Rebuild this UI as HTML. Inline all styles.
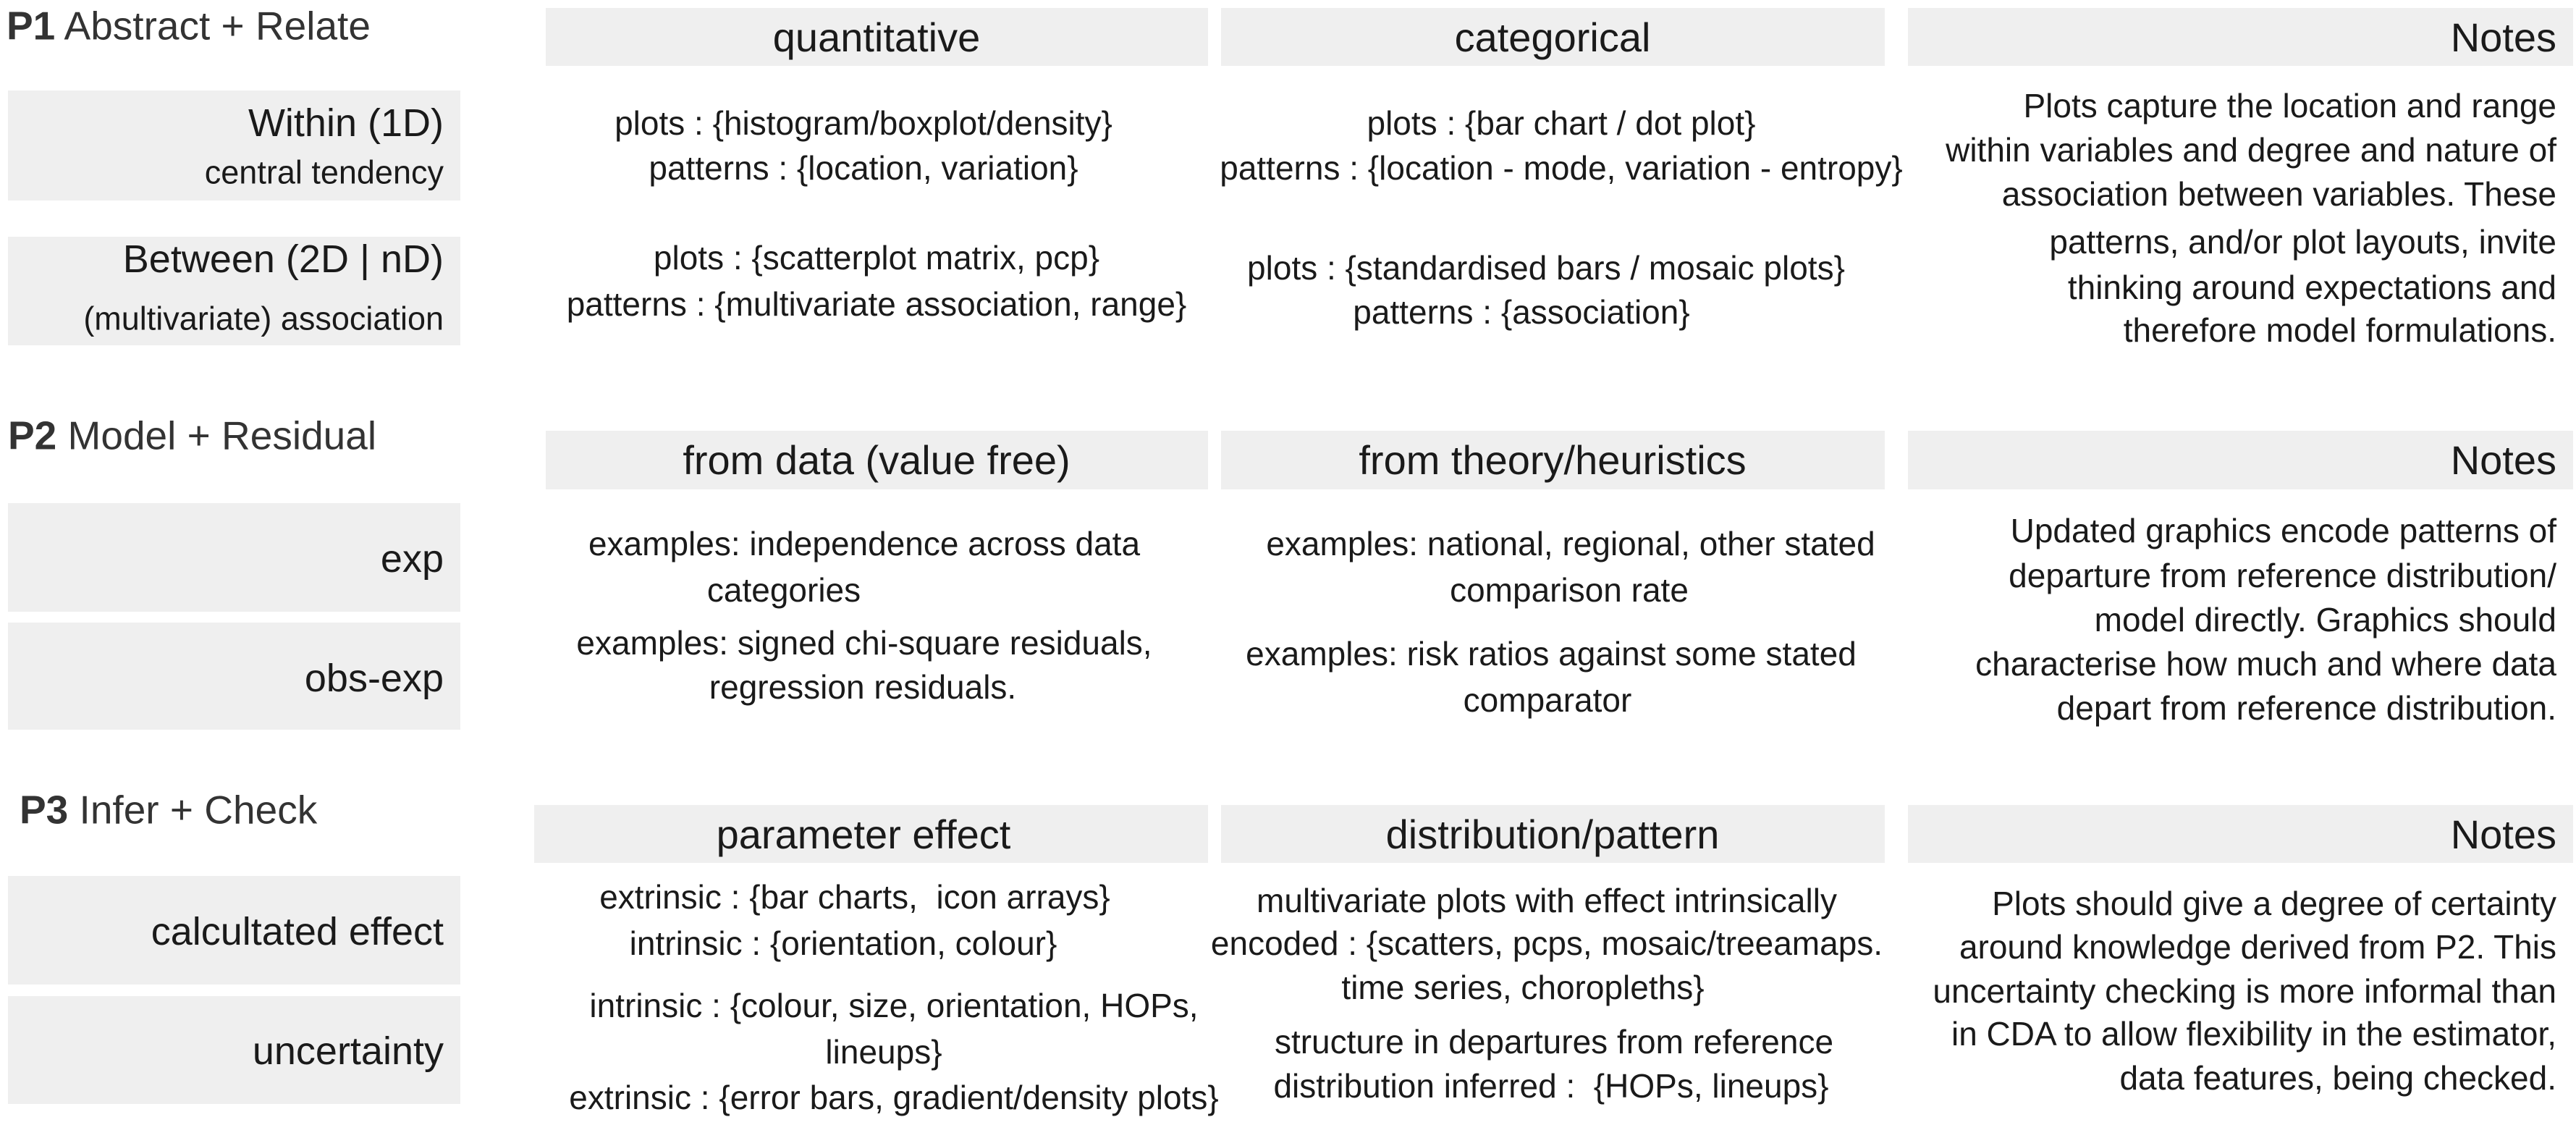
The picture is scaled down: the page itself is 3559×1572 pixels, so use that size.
<!DOCTYPE html>
<html><head><meta charset="utf-8">
<style>
html,body{margin:0;padding:0;background:#fff;}
#page{position:relative;width:3559px;height:1572px;overflow:hidden;font-family:"Liberation Sans",sans-serif;color:#1a1a1a;}
.box{position:absolute;background:#efefef;}
.c{position:absolute;white-space:nowrap;transform:translate(-50%,-50%);font-size:46px;line-height:1;}
.r{position:absolute;white-space:nowrap;transform:translateY(-50%);font-size:46px;line-height:1;text-align:right;}
.l{position:absolute;white-space:nowrap;transform:translateY(-50%);font-size:55px;line-height:1;color:#333;}
.h{font-size:56px;}
.big{font-size:54px;}
.sm{font-size:45px;}
</style></head><body>
<div id="page">

<div class="l" style="left:9px;top:36px"><b>P1</b> Abstract + Relate</div>
<div class="l" style="left:11px;top:602px"><b>P2</b> Model + Residual</div>
<div class="l" style="left:27px;top:1119px"><b>P3</b> Infer + Check</div>

<div class="box" style="left:11px;top:125px;width:625px;height:152px"></div>
<div class="box" style="left:11px;top:327px;width:625px;height:150px"></div>
<div class="box" style="left:11px;top:695px;width:625px;height:150px"></div>
<div class="box" style="left:11px;top:860px;width:625px;height:148px"></div>
<div class="box" style="left:11px;top:1210px;width:625px;height:150px"></div>
<div class="box" style="left:11px;top:1376px;width:625px;height:149px"></div>

<div class="r big" style="right:2946px;top:170px">Within (1D)</div>
<div class="r sm" style="right:2946px;top:238px">central tendency</div>
<div class="r big" style="right:2946px;top:358px">Between (2D | nD)</div>
<div class="r sm" style="right:2946px;top:440px">(multivariate) association</div>
<div class="r big" style="right:2946px;top:772px">exp</div>
<div class="r big" style="right:2946px;top:937px">obs-exp</div>
<div class="r big" style="right:2946px;top:1287px">calcultated effect</div>
<div class="r big" style="right:2946px;top:1452px">uncertainty</div>

<div class="box" style="left:754px;top:11px;width:915px;height:80px"></div>
<div class="box" style="left:1687px;top:11px;width:917px;height:80px"></div>
<div class="box" style="left:2636px;top:11px;width:919px;height:80px"></div>
<div class="c h" style="left:1211px;top:52px">quantitative</div>
<div class="c h" style="left:2145px;top:52px">categorical</div>
<div class="r h" style="right:27px;top:52px">Notes</div>

<div class="box" style="left:754px;top:595px;width:915px;height:81px"></div>
<div class="box" style="left:1687px;top:595px;width:917px;height:81px"></div>
<div class="box" style="left:2636px;top:595px;width:919px;height:81px"></div>
<div class="c h" style="left:1211px;top:636px">from data (value free)</div>
<div class="c h" style="left:2145px;top:636px">from theory/heuristics</div>
<div class="r h" style="right:27px;top:636px">Notes</div>

<div class="box" style="left:738px;top:1112px;width:931px;height:80px"></div>
<div class="box" style="left:1687px;top:1112px;width:917px;height:80px"></div>
<div class="box" style="left:2636px;top:1112px;width:919px;height:80px"></div>
<div class="c h" style="left:1193px;top:1153px">parameter effect</div>
<div class="c h" style="left:2145px;top:1153px">distribution/pattern</div>
<div class="r h" style="right:27px;top:1153px">Notes</div>

<div class="c" style="left:1193px;top:170px">plots : {histogram/boxplot/density}</div>
<div class="c" style="left:1193px;top:232px">patterns : {location, variation}</div>
<div class="c" style="left:1211px;top:356px">plots : {scatterplot matrix, pcp}</div>
<div class="c" style="left:1211px;top:420px">patterns : {multivariate association, range}</div>
<div class="c" style="left:2157px;top:170px">plots : {bar chart / dot plot}</div>
<div class="c" style="left:2157px;top:232px">patterns : {location - mode, variation - entropy}</div>
<div class="c" style="left:2136px;top:370px">plots : {standardised bars / mosaic plots}</div>
<div class="c" style="left:2102px;top:431px">patterns : {association}</div>
<div class="r" style="right:27px;top:146px">Plots capture the location and range</div>
<div class="r" style="right:27px;top:207px">within variables and degree and nature of</div>
<div class="r" style="right:27px;top:268px">association between variables. These</div>
<div class="r" style="right:27px;top:334px">patterns, and/or plot layouts, invite</div>
<div class="r" style="right:27px;top:397px">thinking around expectations and</div>
<div class="r" style="right:27px;top:456px">therefore model formulations.</div>

<div class="c" style="left:1194px;top:751px">examples: independence across data</div>
<div class="c" style="left:1083px;top:815px">categories</div>
<div class="c" style="left:1194px;top:888px">examples: signed chi-square residuals,</div>
<div class="c" style="left:1192px;top:949px">regression residuals.</div>
<div class="c" style="left:2170px;top:751px">examples: national, regional, other stated</div>
<div class="c" style="left:2168px;top:815px">comparison rate</div>
<div class="c" style="left:2143px;top:903px">examples: risk ratios against some stated</div>
<div class="c" style="left:2138px;top:967px">comparator</div>
<div class="r" style="right:27px;top:733px">Updated graphics encode patterns of</div>
<div class="r" style="right:27px;top:795px">departure from reference distribution/</div>
<div class="r" style="right:27px;top:856px">model directly. Graphics should</div>
<div class="r" style="right:27px;top:917px">characterise how much and where data</div>
<div class="r" style="right:27px;top:978px">depart from reference distribution.</div>

<div class="c" style="left:1181px;top:1239px">extrinsic : {bar charts,&nbsp; icon arrays}</div>
<div class="c" style="left:1165px;top:1303px">intrinsic : {orientation, colour}</div>
<div class="c" style="left:1235px;top:1389px">intrinsic : {colour, size, orientation, HOPs,</div>
<div class="c" style="left:1221px;top:1453px">lineups}</div>
<div class="c" style="left:1235px;top:1516px">extrinsic : {error bars, gradient/density plots}</div>
<div class="c" style="left:2137px;top:1244px">multivariate plots with effect intrinsically</div>
<div class="c" style="left:2137px;top:1303px">encoded : {scatters, pcps, mosaic/treeamaps.</div>
<div class="c" style="left:2104px;top:1364px">time series, choropleths}</div>
<div class="c" style="left:2147px;top:1439px">structure in departures from reference</div>
<div class="c" style="left:2143px;top:1500px">distribution inferred :&nbsp; {HOPs, lineups}</div>
<div class="r" style="right:27px;top:1248px">Plots should give a degree of certainty</div>
<div class="r" style="right:27px;top:1308px">around knowledge derived from P2. This</div>
<div class="r" style="right:27px;top:1369px">uncertainty checking is more informal than</div>
<div class="r" style="right:27px;top:1428px">in CDA to allow flexibility in the estimator,</div>
<div class="r" style="right:27px;top:1489px">data features, being checked.</div>

</div>
</body></html>
